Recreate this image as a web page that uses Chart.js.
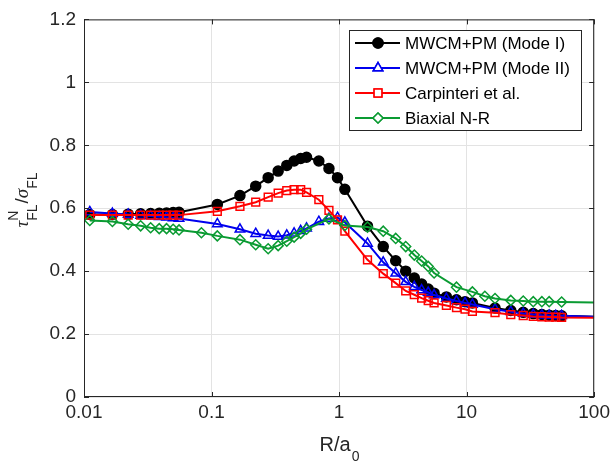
<!DOCTYPE html>
<html>
<head>
<meta charset="utf-8">
<script src="https://cdn.jsdelivr.net/npm/chart.js@4.4.1/dist/chart.umd.min.js"></script>
<style>
  html, body { margin: 0; padding: 0; background: #fff; }
  #c { display: block; }
</style>
</head>
<body>
<canvas id="c" width="614" height="469"></canvas>
<script>
// R/a0 positions
const xMain = [0.0111, 0.0167, 0.0222, 0.0278, 0.0333, 0.0389, 0.0444, 0.05, 0.0556,
  0.111, 0.167, 0.222, 0.278, 0.333, 0.389, 0.444, 0.5, 0.556,
  0.694, 0.833, 0.972, 1.11,
  1.67, 2.22, 2.78, 3.33, 3.89, 4.44, 5.0, 5.56,
  6.94, 8.33, 9.72, 11.1,
  16.7, 22.2, 27.8, 33.3, 38.9, 44.4, 50, 55.6, 100];
const xGreen = [0.0111, 0.0167, 0.0222, 0.0278, 0.0333, 0.0389, 0.0444, 0.05, 0.0556,
  0.0833,
  0.111, 0.167, 0.222, 0.278, 0.333, 0.389, 0.444, 0.5, 0.556,
  0.833, 1.11,
  1.67, 2.22, 2.78, 3.33, 3.89, 4.44, 5.0, 5.56,
  8.33, 11.1, 13.9, 16.7, 22.2, 27.8, 33.3, 38.9, 44.4, 55.6, 100];

// tau_FL^N / sigma_FL
const yModeI = [0.580, 0.580, 0.581, 0.582, 0.583, 0.584, 0.585, 0.586, 0.587,
  0.612, 0.640, 0.670, 0.697, 0.718, 0.736, 0.750, 0.758, 0.762,
  0.750, 0.726, 0.697, 0.660,
  0.543, 0.478, 0.433, 0.400, 0.378, 0.359, 0.343, 0.330,
  0.318, 0.309, 0.303, 0.299,
  0.283, 0.275, 0.269, 0.265, 0.262, 0.260, 0.259, 0.258, 0.255];
const yModeII = [0.588, 0.583, 0.580, 0.577, 0.575, 0.573, 0.571, 0.569, 0.567,
  0.550, 0.533, 0.519, 0.513, 0.510, 0.514, 0.520, 0.528, 0.536,
  0.557, 0.567, 0.570, 0.555,
  0.488, 0.428, 0.393, 0.366, 0.350, 0.340, 0.332, 0.324,
  0.313, 0.305, 0.299, 0.294,
  0.279, 0.271, 0.265, 0.262, 0.260, 0.259, 0.258, 0.258, 0.255];
const yCarp = [0.578, 0.578, 0.578, 0.578, 0.578, 0.578, 0.578, 0.578, 0.578,
  0.590, 0.606, 0.619, 0.635, 0.648, 0.656, 0.659, 0.659, 0.650,
  0.627, 0.593, 0.563, 0.527,
  0.436, 0.392, 0.362, 0.337, 0.325, 0.314, 0.306, 0.299,
  0.291, 0.284, 0.279, 0.272,
  0.268, 0.262, 0.259, 0.256, 0.255, 0.254, 0.254, 0.253, 0.252];
const yBiax = [0.561, 0.558, 0.549, 0.544, 0.538, 0.535, 0.535, 0.533, 0.531,
  0.522,
  0.512, 0.500, 0.484, 0.471, 0.481, 0.495, 0.508, 0.520, 0.533,
  0.566, 0.545,
  0.540, 0.527, 0.504, 0.478, 0.451, 0.432, 0.415, 0.394,
  0.349, 0.334, 0.320, 0.313, 0.307, 0.305, 0.303, 0.303, 0.303, 0.302, 0.300];

const seriesNames = ['MWCM+PM (Mode I)', 'MWCM+PM (Mode II)', 'Carpinteri et al.', 'Biaxial N-R'];
const xTicks = [0.01, 0.1, 1, 10, 100];
const yTicks = [0, 0.2, 0.4, 0.6, 0.8, 1, 1.2];

const colors = ['#000000', '#0000ee', '#ff0000', '#0a9b32'];
const styles = [
  { pointStyle: 'circle', r: 5, fill: true },
  { pointStyle: 'triangle', r: 5.5, fill: false },
  { pointStyle: 'rect', r: 5.5, fill: false },
  { pointStyle: 'rectRot', r: 5, fill: false }
];
const FONT = '"Liberation Sans", Arial, sans-serif';
const TXT = '#262626';

function pts(xs, ys) { return xs.map((v, i) => ({ x: v, y: ys[i] })); }

function makeSet(i, data) {
  const st = styles[i];
  return {
    label: seriesNames[i],
    data: data,
    borderColor: colors[i],
    backgroundColor: colors[i],
    borderWidth: 2,
    tension: 0,
    pointStyle: st.pointStyle,
    pointRadius: c => (c.raw && c.raw.x >= 100 ? 0 : st.r),
    pointBorderWidth: 1.5,
    pointBorderColor: colors[i],
    pointBackgroundColor: st.fill ? colors[i] : 'rgba(0,0,0,0)',
    order: 4 - i
  };
}

// little helper for text with sub/superscripts
function richWidth(ctx, parts) {
  let w = 0;
  parts.forEach(p => {
    ctx.font = p.font;
    const pw = ctx.measureText(p.t).width;
    if (p.stack) w = Math.max(w, p.startAt + pw);
    else w += pw;
    p.startAt = p.stack ? p.startAt : w - pw;
  });
  return w;
}

const decor = {
  id: 'decor',
  afterDraw(chart) {
    const { ctx, chartArea: a, scales } = chart;
    const sx = scales.x, sy = scales.y;
    ctx.save();

    // box + inward ticks
    ctx.strokeStyle = TXT;
    ctx.lineWidth = 1;
    ctx.strokeRect(a.left + 0.5, a.top + 0.5, a.right - a.left - 1, a.bottom - a.top - 1);
    ctx.beginPath();
    xTicks.forEach(v => {
      const px = Math.round(sx.getPixelForValue(v)) + 0.5;
      ctx.moveTo(px, a.bottom); ctx.lineTo(px, a.bottom - 5);
      ctx.moveTo(px, a.top); ctx.lineTo(px, a.top + 5);
    });
    yTicks.forEach(v => {
      const py = Math.round(sy.getPixelForValue(v)) + 0.5;
      ctx.moveTo(a.left, py); ctx.lineTo(a.left + 5, py);
      ctx.moveTo(a.right, py); ctx.lineTo(a.right - 5, py);
    });
    ctx.stroke();

    // x title R/a0
    ctx.fillStyle = TXT;
    ctx.textBaseline = 'alphabetic';
    ctx.textAlign = 'left';
    const main = '20px ' + FONT, sub = '14px ' + FONT;
    ctx.font = main;
    const w1 = ctx.measureText('R/a').width;
    ctx.font = sub;
    const w2 = ctx.measureText('0').width;
    const cx = (a.left + a.right) / 2;
    let tx = cx - (w1 + w2) / 2;
    ctx.font = main; ctx.fillText('R/a', tx, 451);
    ctx.font = sub; ctx.fillText('0', tx + w1 + 1, 461);

    // y title tau^N_FL / sigma_FL
    ctx.save();
    ctx.translate(28, 200);
    ctx.rotate(-Math.PI / 2);
    const greek = 'italic 19px "Liberation Serif", "DejaVu Serif", serif';
    const small = '14px ' + FONT;
    const bigS = '19px ' + FONT;
    ctx.font = greek; const wt = ctx.measureText('\u03C4').width;
    ctx.font = small; const wN = ctx.measureText('N').width; const wFL = ctx.measureText('FL').width;
    ctx.font = bigS; const wsl = ctx.measureText('/').width;
    ctx.font = greek; const ws = ctx.measureText('\u03C3').width;
    const total = wt + Math.max(wN, wFL) + 1 + wsl + ws + wFL;
    let u = -total / 2;
    ctx.font = greek; ctx.fillText('\u03C4', u, 0); u += wt;
    ctx.font = small; ctx.fillText('N', u, -10); ctx.fillText('FL', u, 9);
    u += Math.max(wN, wFL) + 1;
    ctx.font = bigS; ctx.fillText('/', u, 0); u += wsl;
    ctx.font = greek; ctx.fillText('\u03C3', u, 0); u += ws;
    ctx.font = small; ctx.fillText('FL', u, 9);
    ctx.restore();

    // legend
    const L = { x: 349.5, y: 30.5, w: 232, h: 100 };
    ctx.fillStyle = '#ffffff';
    ctx.fillRect(L.x, L.y, L.w, L.h);
    ctx.strokeStyle = TXT;
    ctx.lineWidth = 1;
    ctx.strokeRect(L.x, L.y, L.w, L.h);
    const rows = [43, 68, 93, 118];
    seriesNames.forEach((name, i) => {
      const ry = rows[i];
      ctx.strokeStyle = colors[i];
      ctx.lineWidth = 2;
      ctx.beginPath();
      ctx.moveTo(355, ry); ctx.lineTo(400, ry);
      ctx.stroke();
      ctx.lineWidth = 1.5;
      Chart.helpers.drawPoint(ctx, {
        pointStyle: styles[i].pointStyle, radius: styles[i].r, borderWidth: 1.5, rotation: 0
      }, 378, ry);
      ctx.fillStyle = styles[i].fill ? colors[i] : '#ffffff';
      ctx.strokeStyle = colors[i];
      ctx.beginPath();
      ctx.save();
      Chart.helpers.drawPoint(ctx, {
        pointStyle: styles[i].pointStyle, radius: styles[i].r, borderWidth: 1.5, rotation: 0
      }, 378, ry);
      ctx.restore();
      ctx.fillStyle = '#000000';
      ctx.font = '17px ' + FONT;
      ctx.textBaseline = 'middle';
      ctx.fillText(name, 405, ry + 1);
    });
    ctx.restore();
  }
};

new Chart(document.getElementById('c'), {
  type: 'line',
  data: {
    datasets: [
      makeSet(0, pts(xMain, yModeI)),
      makeSet(1, pts(xMain, yModeII)),
      makeSet(2, pts(xMain, yCarp)),
      makeSet(3, pts(xGreen, yBiax))
    ]
  },
  options: {
    responsive: false,
    animation: false,
    devicePixelRatio: 1,
    layout: { padding: { left: 0, top: 15, right: 16, bottom: 0 } },
    plugins: { legend: { display: false }, tooltip: { enabled: false } },
    scales: {
      x: {
        type: 'logarithmic',
        min: 0.01, max: 100,
        afterBuildTicks: s => { s.ticks = xTicks.map(v => ({ value: v })); },
        afterFit: s => { s.height = 72; },
        ticks: {
          autoSkip: false, maxRotation: 0, padding: 4,
          color: TXT, font: { family: FONT, size: 19 },
          callback: v => String(v)
        },
        grid: { color: '#e3e3e3', lineWidth: 1, drawTicks: false },
        border: { display: false }
      },
      y: {
        type: 'linear',
        min: 0, max: 1.2,
        afterBuildTicks: s => { s.ticks = yTicks.map(v => ({ value: v })); },
        afterFit: s => { s.width = 84; },
        ticks: {
          padding: 8,
          color: TXT, font: { family: FONT, size: 19 },
          callback: v => String(v)
        },
        grid: { color: '#e3e3e3', lineWidth: 1, drawTicks: false },
        border: { display: false }
      }
    }
  },
  plugins: [decor]
});
</script>
</body>
</html>
